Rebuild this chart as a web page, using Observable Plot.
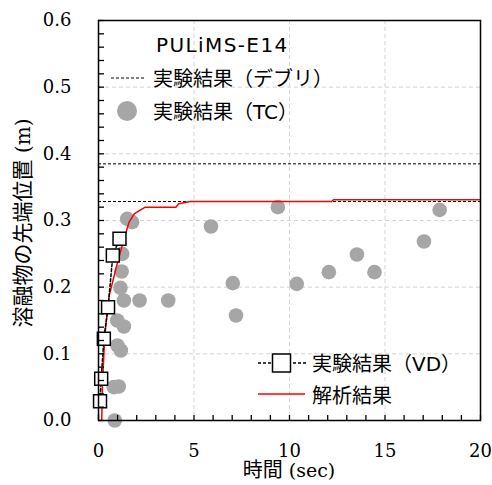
<!DOCTYPE html>
<html>
<head>
<meta charset="utf-8">
<script src="https://cdn.jsdelivr.net/npm/d3@7"></script>
<script src="https://cdn.jsdelivr.net/npm/@observablehq/plot@0.6"></script>
<style>
  html, body { margin: 0; padding: 0; background: #fff; }
  #chart svg { display: block; }
</style>
</head>
<body>
<div id="chart"></div>
<script>
// ---- data ----
const debrisLevels = [0.385, 0.3285];

const vdTime = [0.08, 0.14, 0.28, 0.50, 0.75, 1.10];
const vdPos  = [0.029, 0.0625, 0.1225, 0.170, 0.2475, 0.2725];

const tcTime = [0.85, 0.80, 1.06, 0.99, 1.17, 0.98, 1.33, 1.33, 2.15, 3.65, 1.15, 1.21, 1.24, 1.50, 1.76,
                5.89, 7.03, 7.20, 9.39, 10.38, 12.06, 13.53, 14.45, 17.04, 17.86];
const tcPos  = [0.0, 0.050, 0.051, 0.1125, 0.105, 0.150, 0.141, 0.180, 0.180, 0.180, 0.199, 0.2235, 0.250, 0.3025, 0.2975,
                0.291, 0.206, 0.1575, 0.320, 0.205, 0.2225, 0.249, 0.2225, 0.2685, 0.316];

const anaTime = [0.17, 0.21, 0.33, 0.56, 1.0, 1.34, 1.6, 1.87, 2.2, 2.45, 4.05, 4.2, 4.8, 12.2, 12.3, 20];
const anaPos  = [0, 0.057, 0.1275, 0.1875, 0.2375, 0.2725, 0.2975, 0.31, 0.316, 0.32, 0.32, 0.325, 0.3285, 0.3285, 0.331, 0.331];

const xTicks = [0, 5, 10, 15, 20];
const yTicks = [0, 0.1, 0.2, 0.3, 0.4, 0.5, 0.6];
const xGrid = [5, 10, 15];
const yGrid = [0.1, 0.2, 0.3, 0.4, 0.5];
const xMinor = d3.range(0, 21, 1);
const yMinor = d3.range(0, 31).map(i => i * 0.02);

const title = "PULiMS-E14";
const legendLabels = ["実験結果（デブリ）", "実験結果（TC）", "実験結果（VD）", "解析結果"];
const yTitle = "溶融物の先端位置";
const yUnit = " (m)";
const xTitle = "時間";
const xUnit = " (sec)";

const vd = vdTime.map((t, i) => ({t, p: vdPos[i]}));
const tc = tcTime.map((t, i) => ({t, p: tcPos[i]}));
const ana = anaTime.map((t, i) => ({t, p: anaPos[i]}));

const W = 492, H = 485;
const mL = 98, mR = 12, mT = 20, mB = 65;
const gray = "#a6a6a6";
const serif = "'DejaVu Serif', serif";
const sans = "'DejaVu Sans', 'Noto Sans CJK JP', sans-serif";

const svg = Plot.plot({
  width: W, height: H,
  marginLeft: mL, marginRight: mR, marginTop: mT, marginBottom: mB,
  style: {background: "#fff", overflow: "visible", fontFamily: serif, fontSize: "18px", color: "#000"},
  x: {domain: [0, 20]},
  y: {domain: [0, 0.6]},
  marks: [
    Plot.gridX(xGrid, {stroke: "#d4d4d4", strokeOpacity: 1, strokeDasharray: "4,3", strokeWidth: 1}),
    Plot.gridY(yGrid, {stroke: "#d4d4d4", strokeOpacity: 1, strokeDasharray: "4,3", strokeWidth: 1}),
    Plot.ruleY(debrisLevels, {stroke: "#000", strokeDasharray: "3,2", strokeWidth: 1}),
    Plot.dot(tc, {x: "t", y: "p", r: 7.3, fill: gray, stroke: null}),
    Plot.line(ana, {x: "t", y: "p", stroke: "#ff0000", strokeWidth: 1.5}),
    Plot.line(vd, {x: "t", y: "p", stroke: "#000", strokeWidth: 1.5, strokeDasharray: "3,2"}),
    Plot.dot(vd, {x: "t", y: "p", symbol: "square", r: 7.3, fill: "#fff", stroke: "#000", strokeWidth: 1.5}),
    Plot.frame({stroke: "#000", strokeWidth: 1.5}),
    Plot.axisX(xMinor, {tickSize: -5, tickFormat: () => "", label: null, strokeWidth: 1.3}),
    Plot.axisY(yMinor, {tickSize: -6, tickFormat: () => "", label: null, strokeWidth: 1.3}),
    Plot.axisX(xTicks, {tickSize: 0, tickPadding: 24, tickFormat: d => String(d), label: null, fontSize: 18, fontFamily: serif}),
    Plot.axisY(yTicks, {tickSize: 0, tickPadding: 27, tickFormat: d3.format(".1f"), label: null, fontSize: 18, fontFamily: serif})
  ]
});

document.getElementById("chart").appendChild(svg);

// ---- legend and titles ----
const s = d3.select(svg);
const g = s.append("g").attr("font-family", sans).attr("font-size", 20).attr("fill", "#000")
  .attr("text-anchor", "start");

g.append("text").attr("x", 156).attr("y", 45).attr("dy", "0.35em").attr("letter-spacing", 1.4).text(title);

g.append("line").attr("x1", 111).attr("x2", 145).attr("y1", 78).attr("y2", 78)
  .attr("stroke", "#000").attr("stroke-dasharray", "3,2").attr("stroke-width", 1);
g.append("text").attr("x", 153).attr("y", 79).attr("dy", "0.35em").text(legendLabels[0]);

g.append("circle").attr("cx", 127).attr("cy", 111).attr("r", 10).attr("fill", gray);
g.append("text").attr("x", 153).attr("y", 112).attr("dy", "0.35em").text(legendLabels[1]);

g.append("line").attr("x1", 258).attr("x2", 306).attr("y1", 363).attr("y2", 363)
  .attr("stroke", "#000").attr("stroke-dasharray", "3,2").attr("stroke-width", 1.5);
g.append("rect").attr("x", 272.5).attr("y", 354).attr("width", 18).attr("height", 18)
  .attr("fill", "#fff").attr("stroke", "#000").attr("stroke-width", 1.5);
g.append("text").attr("x", 312).attr("y", 364).attr("dy", "0.35em").text(legendLabels[2]);

g.append("line").attr("x1", 258).attr("x2", 305).attr("y1", 394).attr("y2", 394)
  .attr("stroke", "#ff0000").attr("stroke-width", 1.5);
g.append("text").attr("x", 312).attr("y", 396).attr("dy", "0.35em").text(legendLabels[3]);

const yt = s.append("text").attr("transform", `translate(23,${(mT + H - mB) / 2 + 3}) rotate(-90)`)
  .attr("text-anchor", "middle").attr("dy", "0.35em").attr("font-size", 21)
  .attr("font-family", "'Noto Sans CJK JP', sans-serif").attr("fill", "#000");
yt.append("tspan").text(yTitle);
yt.append("tspan").attr("font-family", serif).attr("font-size", 20).text(yUnit);

const xt = s.append("text").attr("x", (mL + W - mR) / 2).attr("y", 470)
  .attr("text-anchor", "middle").attr("dy", "0.35em").attr("font-size", 20)
  .attr("font-family", "'Noto Sans CJK JP', sans-serif").attr("fill", "#000");
xt.append("tspan").text(xTitle);
xt.append("tspan").attr("font-family", serif).attr("font-size", 19).text(xUnit);
</script>
</body>
</html>
